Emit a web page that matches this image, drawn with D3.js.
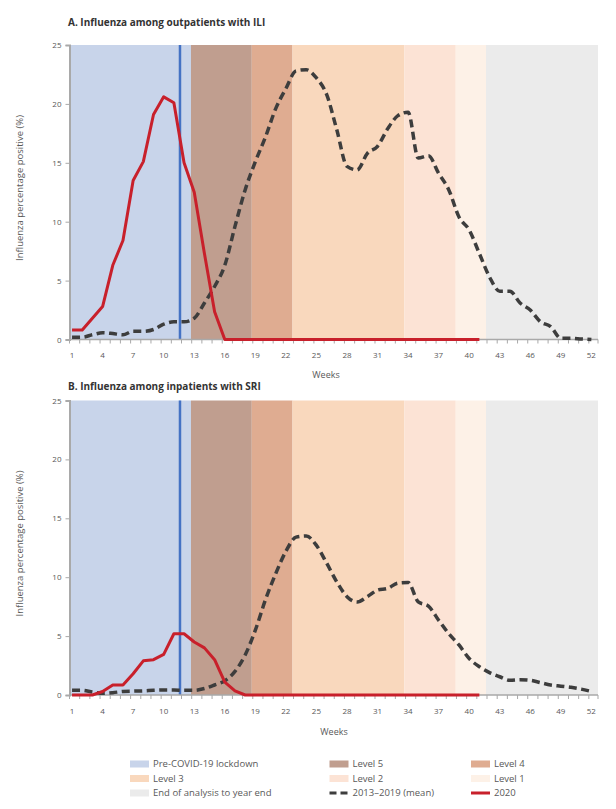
<!DOCTYPE html>
<html>
<head>
<meta charset="utf-8">
<script src="https://cdn.jsdelivr.net/npm/d3@7"></script>
<style>
  html, body { margin: 0; padding: 0; background: #fff; }
  svg { display: block; font-family: "Open Sans", "Noto Sans", sans-serif; }
</style>
</head>
<body>
<svg id="chart" width="616" height="809"></svg>
<script>
// ---------- DATA ----------
const weeks = d3.range(1, 53);
const tickWeeks = [1, 4, 7, 10, 13, 16, 19, 22, 25, 28, 31, 34, 37, 40, 43, 46, 49, 52];
const yTicks = [0, 5, 10, 15, 20, 25];

// Panel A: outpatients with ILI
const iliMean = [0.2, 0.2, 0.4, 0.57, 0.5, 0.4, 0.7, 0.7, 0.85, 1.3, 1.5, 1.5, 1.8, 3.1, 4.5, 6.3,
  9.6, 12.7, 15.1, 17.2, 19.6, 21.3, 22.8, 22.9, 22.2, 20.8, 17.8, 14.7, 14.4, 15.8, 16.4, 17.9,
  19.0, 19.3, 15.4, 15.6, 14.1, 12.7, 10.4, 9.3, 7.3, 5.3, 4.1, 4.1, 3.1, 2.5, 1.5, 1.1, 0.1,
  0.1, 0.05, 0.0];
const ili2020 = [0.8, 0.8, 1.8, 2.8, 6.3, 8.4, 13.5, 15.1, 19.1, 20.6, 20.1, 15.0, 12.5, 7.3, 2.35, 0,
  0, 0, 0, 0, 0, 0, 0, 0, 0, 0, 0, 0, 0, 0, 0, 0, 0, 0, 0, 0, 0, 0, 0, 0, 0];

// Panel B: inpatients with SRI
const sriMean = [0.4, 0.4, 0.25, 0.15, 0.2, 0.3, 0.33, 0.35, 0.4, 0.42, 0.42, 0.4, 0.4, 0.55, 0.85, 1.2,
  2.0, 3.4, 5.5, 8.1, 10.3, 12.2, 13.4, 13.5, 12.7, 11.2, 9.6, 8.35, 7.9, 8.35, 8.9, 9.05,
  9.5, 9.55, 7.9, 7.55, 6.35, 5.2, 4.25, 3.1, 2.4, 1.9, 1.55, 1.25, 1.3, 1.25, 1.05, 0.85, 0.75,
  0.65, 0.5, 0.3];
const sri2020 = [0, 0, 0, 0.3, 0.85, 0.85, 1.8, 2.9, 3.0, 3.45, 5.2, 5.2, 4.5, 4.0, 3.0, 1.1,
  0.35, 0, 0, 0, 0, 0, 0, 0, 0, 0, 0, 0, 0, 0, 0, 0, 0, 0, 0, 0, 0, 0, 0, 0, 0];

// Period bands (week boundaries)
const periodNames = ["Pre-COVID-19 lockdown", "Level 5", "Level 4", "Level 3", "Level 2", "Level 1", "End of analysis to year end"];
const periodStart = [0.75, 12.68, 18.65, 22.65, 33.62, 38.68, 41.65];
const periodEnd = [12.68, 18.65, 22.65, 33.62, 38.68, 41.65, 52.65];
const periodColors = ["#c8d4ea", "#c09e8f", "#dfac91", "#f9d8bd", "#fce3d5", "#fdf1e7", "#ebebeb"];
const lockdownWeek = 11.6;

const panelTitles = ["A. Influenza among outpatients with ILI", "B. Influenza among inpatients with SRI"];
const yLabel = "Influenza percentage positive (%)";
const xLabel = "Weeks";

// ---------- LAYOUT ----------
const svg = d3.select("#chart");
const plotLeft = 69.5, plotRight = 598;
const panels = [
  { top: 45, bottom: 339.5, mean: iliMean, y2020: ili2020, title: panelTitles[0], titleY: 26, xLabX: 326, xLabY: 378 },
  { top: 400.5, bottom: 695, mean: sriMean, y2020: sri2020, title: panelTitles[1], titleY: 390, xLabX: 334, xLabY: 735 }
];

const x = d3.scaleLinear().domain([0.75, 52.65]).range([plotLeft, plotRight]);
const axisColor = "#a9a9a9";
const textColor = "#595959";

panels.forEach(p => {
  const y = d3.scaleLinear().domain([0, 25]).range([p.bottom, p.top]);
  const g = svg.append("g");

  // bands
  g.selectAll("rect.band").data(periodNames).join("rect")
    .attr("x", (d, i) => x(periodStart[i]))
    .attr("width", (d, i) => x(periodEnd[i]) - x(periodStart[i]))
    .attr("y", p.top).attr("height", p.bottom - p.top)
    .attr("fill", (d, i) => periodColors[i]);

  // lockdown line
  g.append("line")
    .attr("x1", x(lockdownWeek)).attr("x2", x(lockdownWeek))
    .attr("y1", p.top).attr("y2", p.bottom)
    .attr("stroke", "#4472c4").attr("stroke-width", 2.5);

  // y axis
  const yAxis = d3.axisLeft(y).tickValues(yTicks).tickSize(4).tickPadding(4);
  const ya = g.append("g").attr("transform", `translate(${plotLeft},0)`).call(yAxis);
  ya.select(".domain").attr("stroke", axisColor).attr("stroke-width", 2);
  ya.selectAll(".tick line").attr("stroke", axisColor);
  ya.selectAll(".tick text").attr("fill", textColor).style("font-size", "8px").style("font-family", "'Open Sans', sans-serif");

  // x axis: tick marks at week boundaries, labels at week centres
  const xa = g.append("g").attr("transform", `translate(0,${p.bottom})`);
  xa.append("line").attr("x1", plotLeft).attr("x2", plotRight).attr("stroke", axisColor).attr("stroke-width", 1.5);
  xa.selectAll("line.tk").data(d3.range(0, 53)).join("line")
    .attr("class", "tk")
    .attr("x1", d => Math.min(x(0.75 + d), plotRight)).attr("x2", d => Math.min(x(0.75 + d), plotRight))
    .attr("y1", 0).attr("y2", 4)
    .attr("stroke", axisColor).attr("stroke-width", 1);
  xa.selectAll("text").data(tickWeeks).join("text")
    .attr("x", d => x(d)).attr("y", 18.5)
    .attr("text-anchor", "middle").attr("fill", textColor)
    .style("font-size", "8px")
    .text(d => d);

  // lines
  const line = d3.line().x((d, i) => x(i + 1)).y(d => y(d)).curve(d3.curveMonotoneX);
  const lineStraight = d3.line().x((d, i) => x(i + 1)).y(d => y(d));
  g.append("path").datum(p.mean).attr("d", line)
    .attr("fill", "none").attr("stroke", "#3d3d3d").attr("stroke-width", 3.5)
    .attr("stroke-dasharray", "8,4.5");
  g.append("path").datum(p.y2020).attr("d", lineStraight)
    .attr("fill", "none").attr("stroke", "#c8202b").attr("stroke-width", 3)
    .attr("stroke-linejoin", "round");

  // titles
  svg.append("text").attr("x", 68).attr("y", p.titleY)
    .attr("fill", "#333").style("font-size", "10px").style("font-weight", "bold")
    .text(p.title);
  svg.append("text")
    .attr("transform", `translate(23,${p.top + 143}) rotate(-90)`)
    .attr("text-anchor", "middle").attr("fill", textColor).style("font-size", "9.5px")
    .text(yLabel);
  svg.append("text").attr("x", p.xLabX).attr("y", p.xLabY)
    .attr("text-anchor", "middle").attr("fill", textColor).style("font-size", "9px")
    .text(xLabel);
});

// ---------- LEGEND ----------
const legendItems = [
  { label: periodNames[0], type: "rect", color: periodColors[0] },
  { label: periodNames[1], type: "rect", color: periodColors[1] },
  { label: periodNames[2], type: "rect", color: periodColors[2] },
  { label: periodNames[3], type: "rect", color: periodColors[3] },
  { label: periodNames[4], type: "rect", color: periodColors[4] },
  { label: periodNames[5], type: "rect", color: periodColors[5] },
  { label: periodNames[6], type: "rect", color: periodColors[6] },
  { label: "2013–2019 (mean)", type: "dash", color: "#3d3d3d" },
  { label: "2020", type: "line", color: "#c8202b" }
];
const legCols = [130, 329.5, 471];
const legRows = [764, 778.5, 793];
const leg = svg.append("g");
legendItems.forEach((it, i) => {
  const cx = legCols[i % 3], cy = legRows[Math.floor(i / 3)];
  if (it.type === "rect") {
    leg.append("rect").attr("x", cx).attr("y", cy - 3.5).attr("width", 19).attr("height", 7).attr("fill", it.color);
  } else if (it.type === "dash") {
    leg.append("line").attr("x1", cx).attr("x2", cx + 19).attr("y1", cy).attr("y2", cy)
      .attr("stroke", it.color).attr("stroke-width", 3).attr("stroke-dasharray", "7,4");
  } else {
    leg.append("line").attr("x1", cx).attr("x2", cx + 19).attr("y1", cy).attr("y2", cy)
      .attr("stroke", it.color).attr("stroke-width", 3);
  }
  leg.append("text").attr("x", cx + 23).attr("y", cy + 3.4)
    .attr("fill", textColor).style("font-size", "9.5px").text(it.label);
});
</script>
</body>
</html>
